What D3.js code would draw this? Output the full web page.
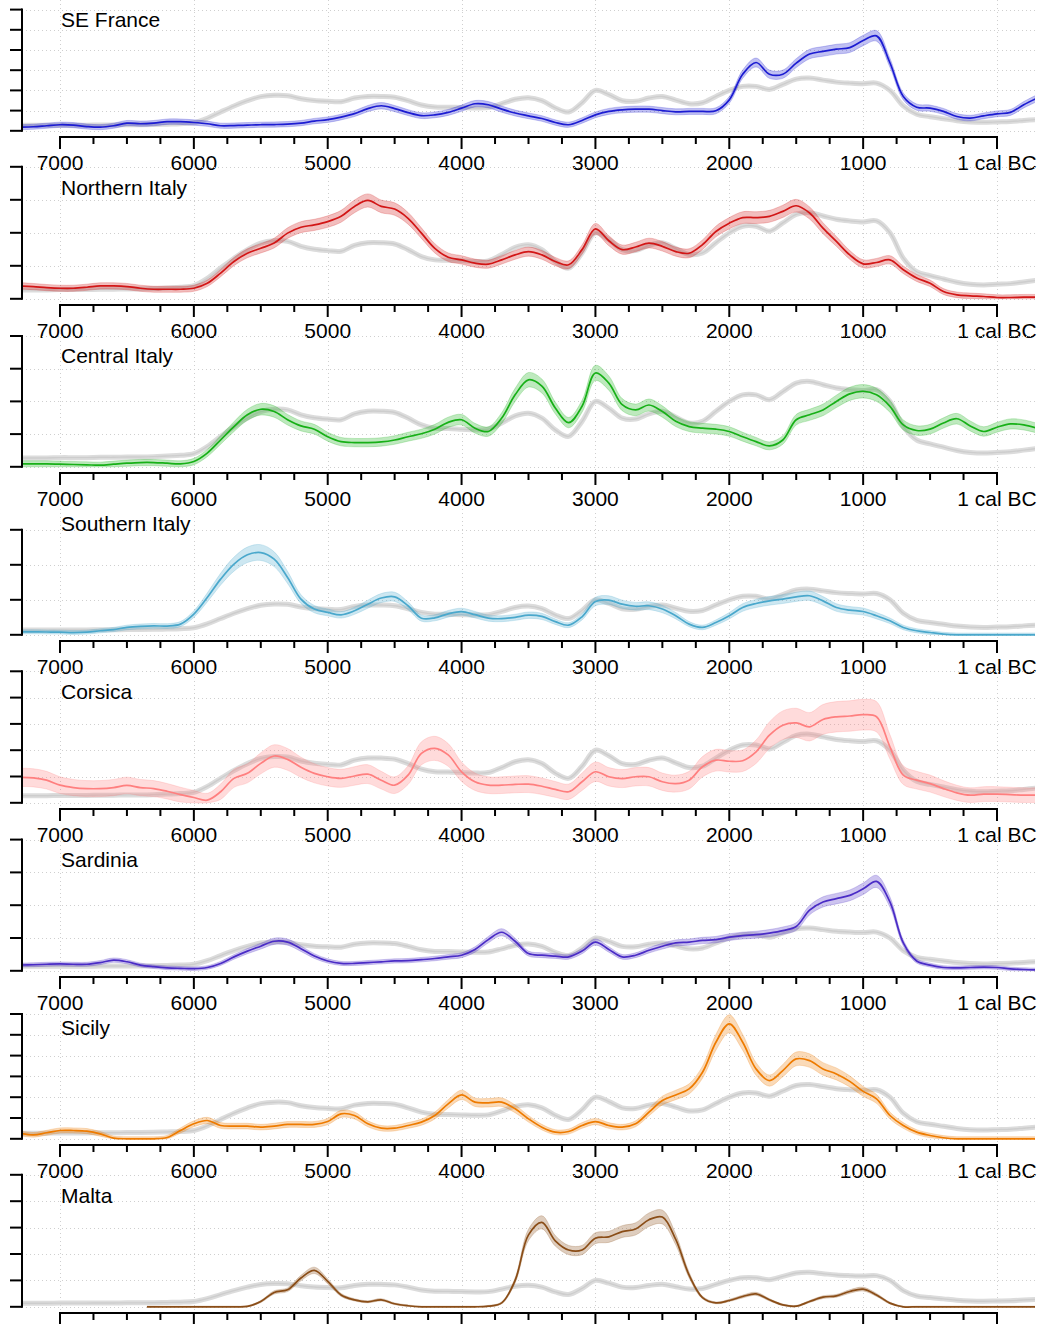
<!DOCTYPE html>
<html>
<head>
<meta charset="utf-8">
<script src="https://cdn.jsdelivr.net/npm/d3@7"></script>
<style>
  html, body { margin: 0; padding: 0; background: #ffffff; }
  svg { display: block; }
  text { font-family: "Liberation Sans", Arial, Helvetica, sans-serif; fill: #000; }
</style>
</head>
<body>
<div id="chart"></div>
<script>
// ---------------- DATA ----------------
const regions = ["SE France", "Northern Italy", "Central Italy", "Southern Italy",
                 "Corsica", "Sardinia", "Sicily", "Malta"];
// years BC (negative = AD), step 100
const years = d3.range(7300, -301, -100);
const xTickYears = [7000, 6000, 5000, 4000, 3000, 2000, 1000, 0];
const xTickLabels = ["7000", "6000", "5000", "4000", "3000", "2000", "1000", "1 cal BC"];
const xMinorStep = 250;
// y tick step and count per region
const yTickStep = [1, 1, 1, 2, 1, 2, 1, 2];
const yTickCount = [7, 5, 5, 4, 6, 5, 7, 6];

// overall (grey) summed density, same for every panel
const allSites = [
  0.27,0.27,0.27,0.28,0.28,0.28,0.29,0.29,0.30,0.30,
  0.31,0.33,0.35,0.40,0.62,0.93,1.23,1.49,1.69,1.76,
  1.74,1.59,1.50,1.46,1.44,1.62,1.70,1.70,1.66,1.49,
  1.28,1.18,1.17,1.15,1.13,1.15,1.34,1.56,1.64,1.49,
  1.13,0.93,1.39,2.00,1.79,1.49,1.46,1.62,1.70,1.52,
  1.34,1.39,1.70,2.00,2.20,2.20,2.05,2.30,2.56,2.61,
  2.51,2.41,2.36,2.33,2.36,2.00,1.23,0.82,0.70,0.60,
  0.50,0.44,0.42,0.44,0.46,0.51,0.56];

const seFrance = [
  0.18,0.20,0.25,0.30,0.28,0.21,0.18,0.25,0.38,0.35,
  0.38,0.45,0.45,0.41,0.35,0.25,0.26,0.28,0.30,0.31,
  0.33,0.38,0.48,0.55,0.68,0.85,1.10,1.24,1.10,0.90,
  0.75,0.79,0.91,1.12,1.34,1.29,1.07,0.88,0.74,0.61,
  0.41,0.30,0.51,0.79,0.96,1.04,1.07,1.07,1.00,0.94,
  0.96,0.96,0.99,1.53,2.80,3.38,2.80,2.80,3.35,3.80,
  3.93,4.04,4.12,4.47,4.70,3.37,1.70,1.17,1.12,0.96,
  0.71,0.63,0.74,0.84,0.91,1.29,1.62];

const northernItaly = [
  0.39,0.37,0.34,0.32,0.32,0.35,0.39,0.39,0.37,0.32,
  0.29,0.29,0.29,0.32,0.47,0.78,1.13,1.38,1.53,1.69,
  1.99,2.17,2.24,2.34,2.50,2.80,2.98,2.80,2.72,2.44,
  1.99,1.53,1.26,1.18,1.08,1.05,1.18,1.33,1.43,1.33,
  1.13,1.03,1.49,2.12,1.76,1.49,1.57,1.69,1.59,1.43,
  1.38,1.64,2.04,2.29,2.46,2.46,2.50,2.65,2.82,2.60,
  2.14,1.74,1.33,1.06,1.10,1.18,0.88,0.63,0.47,0.22,
  0.12,0.09,0.07,0.04,0.04,0.05,0.05];

const centralItaly = [
  0.09,0.09,0.09,0.08,0.07,0.06,0.05,0.08,0.11,0.13,
  0.13,0.11,0.09,0.16,0.42,0.82,1.23,1.59,1.76,1.69,
  1.44,1.25,1.15,0.92,0.77,0.74,0.74,0.76,0.82,0.92,
  1.01,1.15,1.36,1.44,1.18,1.08,1.49,2.20,2.66,2.47,
  1.80,1.35,1.85,2.87,2.56,1.90,1.74,1.89,1.69,1.39,
  1.23,1.18,1.15,1.08,0.92,0.77,0.64,0.82,1.44,1.59,
  1.74,2.00,2.23,2.31,2.20,1.85,1.28,1.11,1.15,1.34,
  1.47,1.25,1.08,1.21,1.31,1.28,1.18];

const southernItaly = [
  0.17,0.17,0.16,0.15,0.13,0.15,0.23,0.30,0.42,0.48,
  0.51,0.50,0.61,1.18,2.13,3.18,4.04,4.57,4.70,4.32,
  3.28,2.04,1.47,1.28,1.14,1.37,1.75,2.10,2.17,1.66,
  0.95,0.97,1.20,1.32,1.15,0.95,0.92,1.00,1.12,1.05,
  0.75,0.55,1.03,1.90,1.98,1.75,1.63,1.66,1.47,1.09,
  0.61,0.42,0.70,1.09,1.56,1.79,1.94,2.04,2.17,2.23,
  1.94,1.56,1.41,1.33,1.09,0.80,0.42,0.23,0.13,0.04,
  0.00,0.00,0.00,0.00,0.00,0.00,0.00];

const corsica = [
  0.97,0.95,0.86,0.67,0.58,0.54,0.54,0.58,0.66,0.58,
  0.54,0.44,0.31,0.20,0.10,0.42,0.93,1.12,1.50,1.78,
  1.65,1.35,1.12,0.99,0.93,1.02,1.09,0.86,0.67,1.05,
  1.88,2.07,1.82,1.18,0.80,0.67,0.67,0.70,0.71,0.63,
  0.51,0.42,0.80,1.18,0.99,0.92,0.99,0.99,0.80,0.73,
  0.86,1.37,1.62,1.58,1.60,1.94,2.57,2.95,3.04,2.89,
  3.17,3.27,3.30,3.35,3.27,2.13,1.05,0.86,0.73,0.54,
  0.38,0.29,0.33,0.33,0.31,0.29,0.29];

const sardinia = [
  0.35,0.37,0.40,0.42,0.40,0.40,0.50,0.65,0.55,0.35,
  0.25,0.18,0.15,0.13,0.20,0.45,0.85,1.20,1.50,1.80,
  1.75,1.35,0.90,0.60,0.45,0.45,0.50,0.55,0.60,0.62,
  0.68,0.75,0.85,0.95,1.30,1.90,2.35,1.80,1.05,0.95,
  0.90,0.85,1.20,1.75,1.30,0.85,0.95,1.25,1.50,1.70,
  1.75,1.85,1.90,2.05,2.15,2.20,2.30,2.45,2.70,3.70,
  4.20,4.40,4.60,5.00,5.45,4.20,1.70,0.60,0.35,0.20,
  0.18,0.20,0.22,0.20,0.12,0.08,0.06];

const sicily = [
  0.27,0.19,0.29,0.40,0.40,0.37,0.24,0.03,0.00,0.00,
  0.00,0.06,0.40,0.72,0.88,0.64,0.61,0.61,0.56,0.61,
  0.69,0.69,0.69,0.83,1.20,1.12,0.72,0.51,0.51,0.64,
  0.80,1.12,1.68,2.11,1.76,1.73,1.76,1.44,0.96,0.56,
  0.32,0.35,0.64,0.83,0.64,0.56,0.72,1.28,1.84,2.11,
  2.40,3.20,4.64,5.53,4.64,3.36,2.80,3.28,3.84,3.76,
  3.36,3.12,2.76,2.28,1.92,1.12,0.64,0.32,0.16,0.05,
  0.00,0.00,0.00,0.00,0.00,0.00,0.00];

const malta = [
  null,null,null,null,null,null,null,null,null,0.00,
  0.00,0.00,0.00,0.00,0.00,0.00,0.00,0.03,0.40,1.09,
  1.29,2.18,2.76,1.93,0.90,0.53,0.38,0.53,0.23,0.08,
  0.00,0.00,0.00,0.00,0.00,0.05,0.30,2.00,5.45,6.40,
  5.00,4.30,4.30,5.20,5.30,5.70,5.90,6.60,6.80,5.10,
  2.40,0.70,0.30,0.48,0.78,0.98,0.53,0.15,0.05,0.40,
  0.73,0.83,1.16,1.34,0.90,0.28,0.00,0.00,0.00,0.00,
  0.00,0.00,0.00,0.00,0.00,0.00,0.00];
const maltaStartYear = 6350;

const regionSeries = [seFrance, northernItaly, centralItaly, southernItaly,
                      corsica, sardinia, sicily, malta];
// confidence envelope half-width: base + share of value (density units)
const envelopeBase  = [0.12, 0.08, 0.09, 0.10, 0.25, 0.10, 0.10, 0.05];
const envelopeShare = [0.03, 0.04, 0.05, 0.075, 0.10, 0.05, 0.06, 0.07];

// ---------------- STYLE / LAYOUT ----------------
const lineColors = ["#1c1cd2", "#d21616", "#17b017", "#4aa8cc",
                    "#ff7f7f", "#4a2cc6", "#ee7b00", "#8a4d17"];
const W = 1042, H = 1324, panelH = 168;
const plotLeft = 22, plotRight = 1035;
const zeroOffset = 130.8, axisOffset = 137;
const tickPx = [20.2, 33, 32.7, 35, 26.3, 32.8, 20.8, 26.4];

const svg = d3.select("#chart").append("svg")
  .attr("width", W).attr("height", H);
const defs = svg.append("defs");

const x = d3.scaleLinear().domain([7000, 0]).range([60, 997]);
const curve = d3.curveCatmullRom.alpha(0.5);

regions.forEach((name, i) => {
  const top = i * panelH;
  const bottom = top + zeroOffset;
  const n = yTickCount[i], step = yTickStep[i];
  const y = d3.scaleLinear().domain([0, step * (n - 1)])
    .range([bottom, bottom - tickPx[i] * (n - 1)]);
  const yTicks = d3.range(n).map(k => k * step);
  const g = svg.append("g");

  // clip for this panel's plotting region
  const clipId = "clip" + i;
  defs.append("clipPath").attr("id", clipId)
    .append("rect").attr("x", plotLeft).attr("y", top - 10)
    .attr("width", plotRight - plotLeft).attr("height", bottom + 2 - (top - 10));

  // grid
  const grid = g.append("g").attr("stroke", "#cfcfcf").attr("stroke-width", 1)
    .attr("stroke-dasharray", "1,3");
  yTicks.forEach(t => {
    grid.append("line").attr("x1", plotLeft).attr("x2", plotRight)
      .attr("y1", Math.round(y(t)) + 0.5).attr("y2", Math.round(y(t)) + 0.5);
  });
  xTickYears.forEach(t => {
    grid.append("line").attr("x1", Math.round(x(t)) + 0.5).attr("x2", Math.round(x(t)) + 0.5)
      .attr("y1", Math.max(0, top - 3)).attr("y2", bottom + 4);
  });

  const plot = g.append("g").attr("clip-path", "url(#" + clipId + ")");

  // grey overall curve
  const greyLine = d3.line()
    .x((d, k) => x(years[k])).y(d => y(d))
    .curve(curve);
  plot.append("path").datum(allSites).attr("d", greyLine)
    .attr("fill", "none").attr("stroke", "#dcdcdc").attr("stroke-width", 5)
    .attr("stroke-linejoin", "round");
  plot.append("path").datum(allSites).attr("d", greyLine)
    .attr("fill", "none").attr("stroke", "#cdcdcd").attr("stroke-width", 1.4);

  // regional curve with envelope
  const vals = regionSeries[i];
  let pts = vals.map((v, k) => ({ yr: years[k], v: v })).filter(d => d.v !== null);
  if (i === 7) pts = [{ yr: maltaStartYear, v: 0 }].concat(pts.filter(d => d.yr < maltaStartYear));
  const hw = d => envelopeBase[i] + envelopeShare[i] * d.v;
  const band = d3.area()
    .x(d => x(d.yr))
    .y0(d => y(Math.max(0, d.v - hw(d))))
    .y1(d => y(d.v + hw(d)))
    .curve(curve);
  const col = lineColors[i];
  plot.append("path").datum(pts).attr("d", band)
    .attr("fill", col).attr("fill-opacity", 0.28)
    .attr("stroke", col).attr("stroke-opacity", 0.22).attr("stroke-width", 1);
  const line = d3.line()
    .x(d => x(d.yr)).y(d => y(d.v))
    .curve(curve);
  plot.append("path").datum(pts).attr("d", line)
    .attr("fill", "none").attr("stroke", col).attr("stroke-width", 1.7);

  // y axis
  const ya = g.append("g").attr("stroke", "#000").attr("stroke-width", 2);
  ya.append("line").attr("x1", plotLeft).attr("x2", plotLeft)
    .attr("y1", y(yTicks[n - 1]) - 1).attr("y2", y(0) + 1);
  yTicks.forEach(t => {
    ya.append("line").attr("x1", plotLeft - 12).attr("x2", plotLeft)
      .attr("y1", y(t)).attr("y2", y(t));
  });

  // x axis
  const axY = top + axisOffset;
  const xa = g.append("g").attr("stroke", "#000").attr("stroke-width", 2);
  xa.append("line").attr("x1", x(7000) - 1).attr("x2", x(0) + 1)
    .attr("y1", axY).attr("y2", axY);
  d3.range(7000, -1, -xMinorStep).forEach(t => {
    const major = t % 1000 === 0;
    xa.append("line").attr("x1", x(t)).attr("x2", x(t))
      .attr("y1", axY).attr("y2", axY + (major ? 12 : 7));
  });
  // tick labels (the last panel's labels fall below the picture, so they are not drawn)
  if (top + 170 < H) {
    xTickYears.forEach((t, k) => {
      g.append("text").attr("x", x(t)).attr("y", top + 170)
        .attr("text-anchor", "middle").attr("font-size", 21)
        .text(xTickLabels[k]);
    });
  }

  // panel title
  g.append("text").attr("x", 61).attr("y", top + 27)
    .attr("font-size", 21).text(name);
});
</script>
</body>
</html>
